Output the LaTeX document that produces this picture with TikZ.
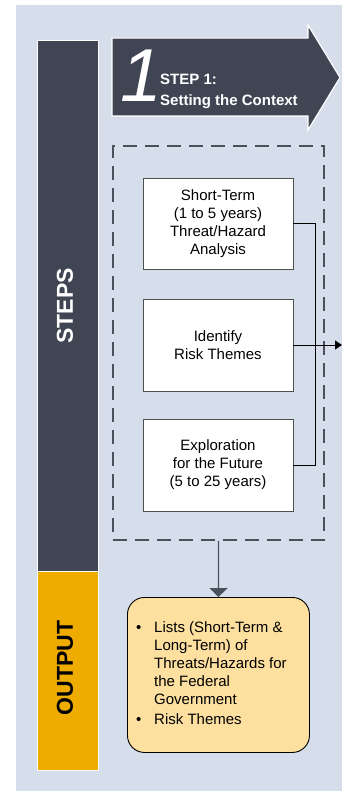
\documentclass[tikz,border=0pt]{standalone}
\usepackage{fontspec}
\setmainfont{Liberation Sans}
\usetikzlibrary{arrows.meta}
\definecolor{bgblue}{RGB}{213,222,234}
\definecolor{darkslate}{RGB}{63,69,83}
\definecolor{gold}{RGB}{238,171,0}
\definecolor{outfill}{RGB}{253,224,159}
\definecolor{dashcol}{RGB}{74,80,92}
\definecolor{boxline}{RGB}{80,80,80}
\tikzset{
  stepbox/.style={draw=boxline, line width=0.8pt, fill=white, minimum width=150pt, minimum height=91pt, align=center, inner sep=0pt, font=\fontsize{15}{18}\selectfont},
  sidebar/.style={draw=white, line width=1.2pt},
  conn/.style={draw=black, line width=0.8pt},
}
\begin{document}
\begin{tikzpicture}[x=1pt,y=-1pt]
\useasboundingbox (0,0) rectangle (342,794);
\fill[bgblue] (16,5) rectangle (342,791);
% side columns
\node[sidebar, fill=darkslate, minimum width=61pt, minimum height=530.5pt, inner sep=0pt, anchor=north west] (steps) at (37,40) {};
\node[sidebar, fill=gold, minimum width=61pt, minimum height=199.5pt, inner sep=0pt, anchor=north west] (outcol) at (37,570.5) {};
\node[rotate=90, text=white, font=\fontsize{23}{26}\selectfont\bfseries] (stepslbl) at (65,306) {STEPS};
\node[rotate=90, text=black, font=\fontsize{23}{26}\selectfont\bfseries] (outlbl) at (65,668) {OUTPUT};
% big arrow
\draw[fill=darkslate, draw=white, line width=1.2pt, line join=miter]
  (112,38) -- (308,38) -- (308,25) -- (340,77.5) -- (308,130) -- (308,116) -- (112,116) -- cycle;
\node[text=white, font=\fontsize{75}{75}\selectfont\itshape, inner sep=0pt] (num) at (141,76) {1};
\node[text=white, font=\fontsize{15}{18}\selectfont\bfseries, anchor=base west, inner sep=0pt] (st1) at (160,85) {STEP 1:};
\node[text=white, font=\fontsize{15}{18}\selectfont\bfseries, anchor=base west, inner sep=0pt] (st2) at (160,106) {Setting the Context};
% dashed frame
\node[draw=dashcol, line width=1.8pt, dash pattern=on 14pt off 8pt, minimum width=211pt, minimum height=394pt, inner sep=0pt, anchor=north west] (frame) at (112,145) {};
% boxes
\node[stepbox] (b1) at (218,223.5) {Short-Term\\(1 to 5 years)\\Threat/Hazard\\Analysis};
\node[stepbox, minimum height=92pt] (b2) at (218,345) {Identify\\Risk Themes};
\node[stepbox, minimum height=92pt] (b3) at (218,465) {Exploration\\for the Future\\(5 to 25 years)};
\coordinate (tip) at (342,345);
\draw[conn] (b1.east) -- ++(22,0) |- (b3.east);
\draw[conn, -{Triangle[length=7pt,width=9pt]}] (b2.east) -- (tip);
% output box
\node[draw=black, line width=0.9pt, fill=outfill, rounded corners=17pt, minimum width=182pt, minimum height=155pt, inner sep=0pt, anchor=north west] (outbox) at (127,597) {};
\draw[draw=dashcol, line width=1.2pt, -{Triangle[length=9pt,width=18pt]}] (frame.south) -- (outbox.north);
\node[anchor=north west, inner sep=0pt, align=left, font=\fontsize{15}{18}\selectfont] (outtext) at (136,620)
{\begin{tabular}{@{}p{18pt}@{}l@{}}
\textbullet & Lists (Short-Term \&\\
 & Long-Term) of\\
 & Threats/Hazards for\\
 & the Federal\\
 & Government\\[2pt]
\textbullet & Risk Themes
\end{tabular}};
\end{tikzpicture}
\end{document}
